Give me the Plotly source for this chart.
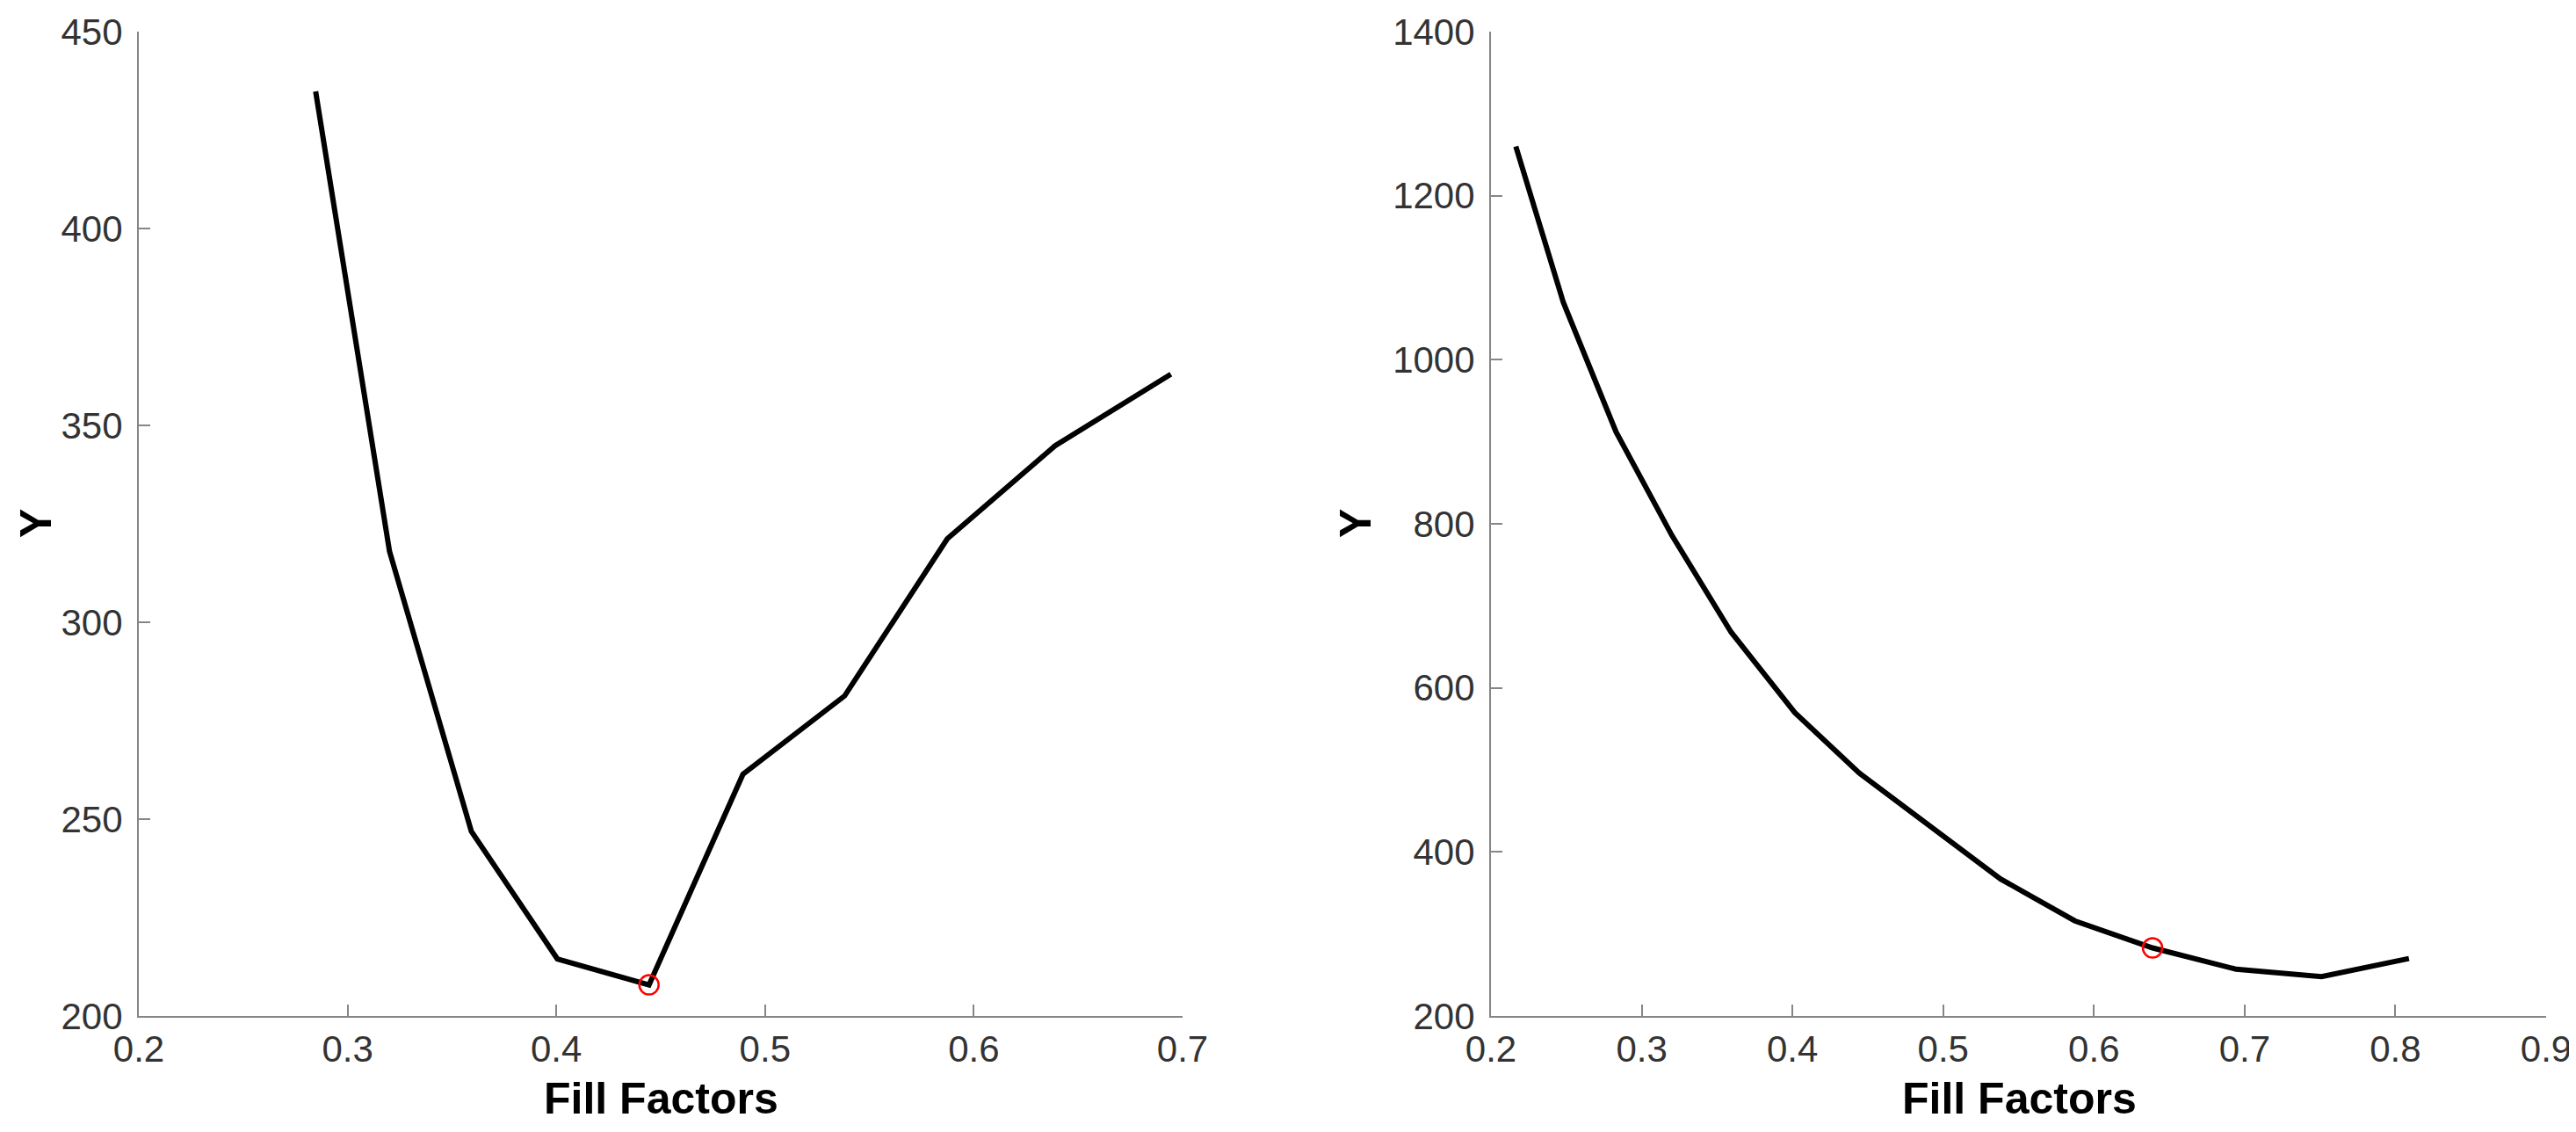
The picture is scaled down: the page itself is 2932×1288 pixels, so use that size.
import plotly.graph_objects as go

# ---- data ----
fill_left = [0.2847, 0.3201, 0.3593, 0.4005, 0.4444, 0.4894, 0.5381, 0.5873, 0.6389, 0.6944]
y_left = [434.8, 318.0, 246.9, 214.5, 207.9, 261.4, 281.3, 321.2, 344.8, 363.0]
opt_left_x = [0.4444]
opt_left_y = [207.9]

fill_right = [0.2165, 0.2480, 0.2830, 0.3200, 0.3593, 0.4015, 0.4444, 0.4894,
              0.5381, 0.5873, 0.6389, 0.6944, 0.7510, 0.8090]
y_right = [1260, 1070, 912, 786, 668, 570, 496, 435, 367, 316, 283, 257, 248, 270]
opt_right_x = [0.6389]
opt_right_y = [283]

left_xticks = [0.2, 0.3, 0.4, 0.5, 0.6, 0.7]
left_yticks = [200, 250, 300, 350, 400, 450]
right_xticks = [0.2, 0.3, 0.4, 0.5, 0.6, 0.7, 0.8, 0.9]
right_yticks = [200, 400, 600, 800, 1000, 1200, 1400]

W, H = 2932, 1288
FONT = "Liberation Sans, Arial, Helvetica, sans-serif"
AXIS_COLOR = "#868686"
TICK_COLOR = "#333333"

fig = go.Figure()
fig.add_trace(go.Scatter(x=fill_left, y=y_left, mode="lines",
                         line=dict(color="black", width=6), xaxis="x", yaxis="y",
                         showlegend=False))
fig.add_trace(go.Scatter(x=opt_left_x, y=opt_left_y, mode="markers",
                         marker=dict(symbol="circle-open", size=22, color="red",
                                     line=dict(color="red", width=2.5)),
                         xaxis="x", yaxis="y", showlegend=False))
fig.add_trace(go.Scatter(x=fill_right, y=y_right, mode="lines",
                         line=dict(color="black", width=6), xaxis="x2", yaxis="y2",
                         showlegend=False))
fig.add_trace(go.Scatter(x=opt_right_x, y=opt_right_y, mode="markers",
                         marker=dict(symbol="circle-open", size=22, color="red",
                                     line=dict(color="red", width=2.5)),
                         xaxis="x2", yaxis="y2", showlegend=False))

def px_x(p):
    return p / W

def px_y(p):
    return 1 - p / H

common = dict(showgrid=False, zeroline=False, showline=True, linecolor=AXIS_COLOR,
              linewidth=2, ticks="inside", ticklen=13, tickwidth=2, tickcolor=AXIS_COLOR,
              tickfont=dict(family=FONT, size=42, color=TICK_COLOR), automargin=False,
              mirror=False)

fig.update_layout(
    width=W, height=H,
    margin=dict(l=0, r=0, t=0, b=0),
    paper_bgcolor="white", plot_bgcolor="white",
    xaxis=dict(domain=[px_x(150), px_x(1338)], range=[0.2, 0.7], tickvals=left_xticks,
               ticktext=[f"{v:g}" for v in left_xticks], anchor="y", **common),
    yaxis=dict(domain=[px_y(1148), px_y(28)], range=[200, 450], tickvals=left_yticks,
               anchor="x", ticklabelstandoff=8, **common),
    xaxis2=dict(domain=[px_x(1689), px_x(2890)], range=[0.2, 0.9], tickvals=right_xticks,
                ticktext=[f"{v:g}" for v in right_xticks], anchor="y2", **common),
    yaxis2=dict(domain=[px_y(1148), px_y(28)], range=[200, 1400], tickvals=right_yticks,
                anchor="x2", ticklabelstandoff=8, **common),
)

title_font = dict(family=FONT, size=50, color="black")
annots = [
    dict(text="<b>Fill Factors</b>", x=px_x(744), y=px_y(1242)),
    dict(text="<b>Fill Factors</b>", x=px_x(2290), y=px_y(1242)),
    dict(text="<b>Y</b>", x=px_x(33), y=px_y(588), textangle=-90),
    dict(text="<b>Y</b>", x=px_x(1535), y=px_y(588), textangle=-90),
]
for a in annots:
    fig.add_annotation(xref="paper", yref="paper", showarrow=False,
                       xanchor="center", yanchor="middle", font=title_font, **a)

fig.write_html("out.html")
